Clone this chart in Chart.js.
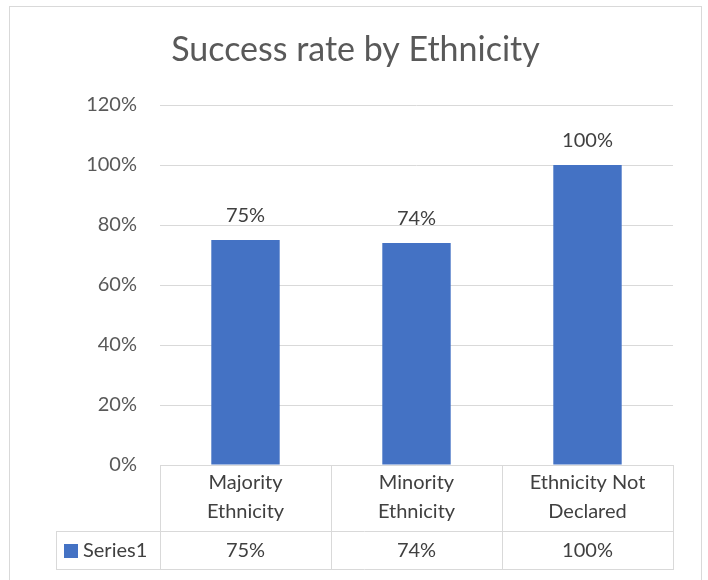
<!DOCTYPE html>
<html><head><meta charset="utf-8">
<script src="https://cdn.jsdelivr.net/npm/chart.js@4/dist/chart.umd.min.js"></script>
<style>html,body{margin:0;padding:0;background:#fff}</style>
</head><body>
<canvas id="c" width="708" height="580"></canvas>
<script>
const titleText = 'Success rate by Ethnicity';
const categories = [['Majority','Ethnicity'],['Minority','Ethnicity'],['Ethnicity Not','Declared']];
const seriesName = 'Series1';
const values = [0.75, 0.74, 1.00];
const yMin = 0, yMax = 1.2, yStep = 0.2;

const FONT = 'Lato, "Open Sans", sans-serif';
const BAR = '#4472C4';
const GRID = '#d9d9d9';
const pct = v => Math.round(v * 100) + '%';

const tablePlugin = {
  id: 'tableAndLabels',
  beforeDraw(chart) {
    const ctx = chart.ctx;
    ctx.save();
    ctx.strokeStyle = GRID;
    ctx.lineWidth = 1;
    ctx.strokeRect(9.5, 6.5, 692, 600);
    ctx.restore();
  },
  afterDatasetsDraw(chart) {
    const ctx = chart.ctx;
    const meta = chart.getDatasetMeta(0);
    ctx.save();
    ctx.font = '20px ' + FONT;
    ctx.fillStyle = '#404040';
    ctx.textAlign = 'center';
    ctx.textBaseline = 'alphabetic';
    meta.data.forEach((bar, i) => {
      ctx.fillText(pct(values[i]), bar.x, bar.y - 18);
    });
    ctx.restore();
  },
  afterDraw(chart) {
    const ctx = chart.ctx;
    const a = chart.chartArea;
    const x = chart.scales.x;
    const n = categories.length;
    const cw = (a.right - a.left) / n;
    const top = a.bottom, mid = a.bottom + 66, bot = a.bottom + 104;
    const leftCell = 56;
    ctx.save();
    ctx.strokeStyle = GRID;
    ctx.lineWidth = 1;
    ctx.beginPath();
    ctx.moveTo(a.left, top + 0.5); ctx.lineTo(a.right, top + 0.5);
    ctx.moveTo(leftCell, mid + 0.5); ctx.lineTo(a.right, mid + 0.5);
    ctx.moveTo(leftCell, bot + 0.5); ctx.lineTo(a.right, bot + 0.5);
    for (let i = 0; i <= n; i++) {
      const px = Math.round(a.left + i * cw) + 0.5;
      ctx.moveTo(px, top); ctx.lineTo(px, bot + 1);
    }
    ctx.moveTo(leftCell + 0.5, mid); ctx.lineTo(leftCell + 0.5, bot + 1);
    ctx.stroke();

    const rowY = (mid + bot) / 2 + 1;
    ctx.fillStyle = BAR;
    ctx.fillRect(64, rowY - 7, 14, 14);
    ctx.font = '20px ' + FONT;
    ctx.fillStyle = '#404040';
    ctx.textBaseline = 'middle';
    ctx.textAlign = 'left';
    ctx.fillText(seriesName, 83, rowY);
    ctx.textAlign = 'center';
    values.forEach((v, i) => {
      ctx.fillText(pct(v), x.getPixelForValue(i), rowY);
    });
    ctx.restore();
  }
};

new Chart(document.getElementById('c'), {
  type: 'bar',
  data: {
    labels: categories,
    datasets: [{
      label: seriesName,
      data: values,
      backgroundColor: BAR,
      borderWidth: 0,
      categoryPercentage: 1.0,
      barPercentage: 0.4
    }]
  },
  options: {
    responsive: false,
    devicePixelRatio: 1,
    animation: false,
    layout: { padding: { left: 38, right: 35, top: 0, bottom: 11 } },
    plugins: {
      legend: { display: false },
      tooltip: { enabled: false },
      title: {
        display: true,
        text: titleText,
        color: '#595959',
        font: { family: FONT, size: 34, weight: 'normal', lineHeight: 1.2 },
        padding: { top: 30, bottom: 34.2 }
      }
    },
    scales: {
      y: {
        min: yMin, max: yMax,
        ticks: {
          stepSize: yStep,
          callback: v => pct(v),
          color: '#595959',
          font: { family: FONT, size: 20 },
          padding: 23
        },
        grid: { color: GRID, lineWidth: 1, drawTicks: false },
        border: { display: false },
        afterFit: s => { s.width = 122; }
      },
      x: {
        ticks: {
          color: '#404040',
          font: { family: FONT, size: 20, lineHeight: 1.45 },
          padding: 3,
          maxRotation: 0,
          autoSkip: false
        },
        grid: { display: false, drawTicks: false },
        border: { display: false },
        afterFit: s => { s.height = 104; }
      }
    }
  },
  plugins: [tablePlugin]
});
</script>
</body></html>
